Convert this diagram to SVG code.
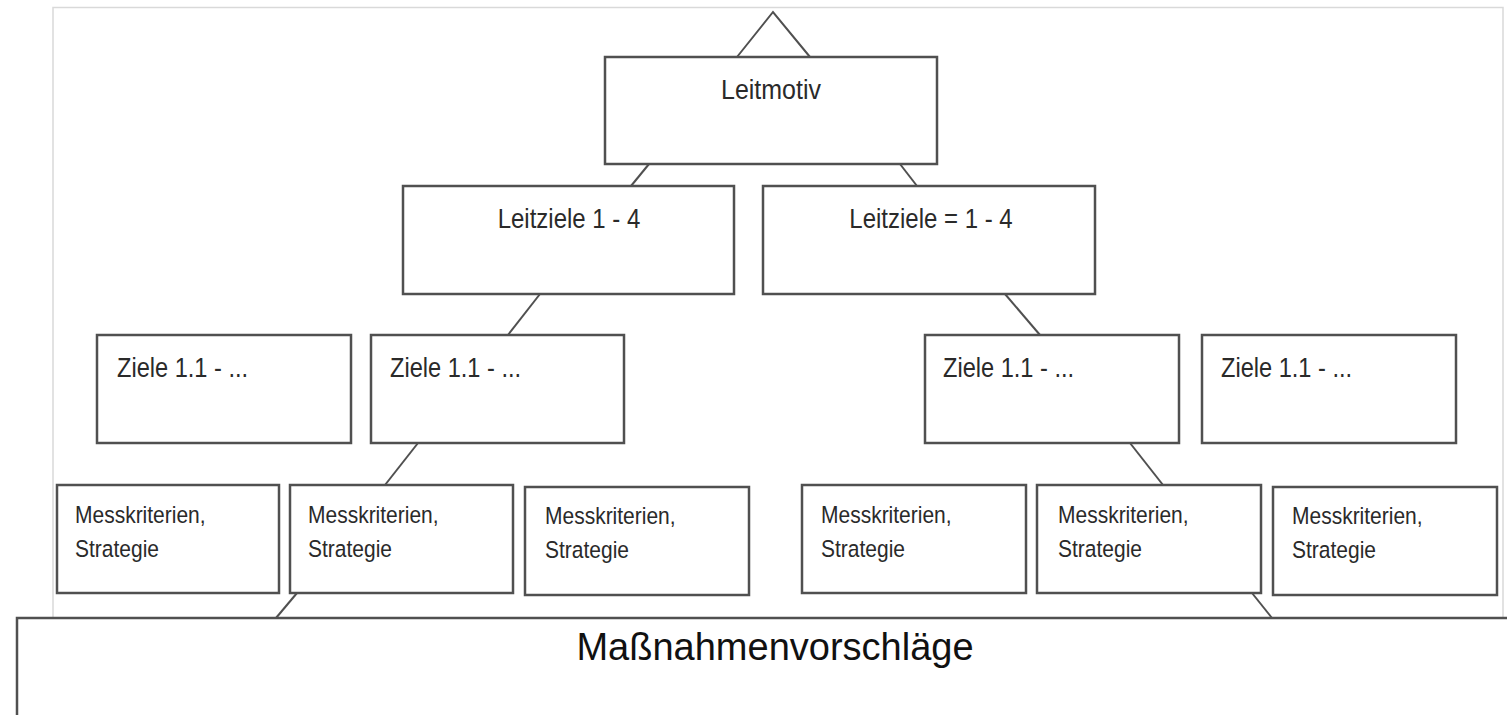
<svg xmlns="http://www.w3.org/2000/svg" width="1507" height="715" viewBox="0 0 1507 715">
<style>
.box{fill:#fff;stroke:#505050;stroke-width:2.5}
.frame{fill:#fff;stroke:#d9d9d9;stroke-width:1.5}
.con{stroke:#505050;stroke-width:2;fill:none}
.t{font-family:"Liberation Sans",Arial,sans-serif;fill:#2a2a2a}
.tl{font-size:24px}
.tz{font-size:23.6px}
.tm{font-size:21px}
.big{font-family:"Liberation Sans",Arial,sans-serif;font-size:38px;fill:#111}
</style>
<rect width="1507" height="715" fill="#fff"/>
<rect class="frame" x="53" y="7.5" width="1450" height="620"/>
<g id="connectors">
<polyline class="con" points="737,57 773,12 810,57"/>
<line class="con" x1="649" y1="164" x2="631" y2="186"/>
<line class="con" x1="900" y1="164" x2="917" y2="186"/>
<line class="con" x1="540" y1="294" x2="508" y2="335"/>
<line class="con" x1="1005" y1="294" x2="1040" y2="335"/>
<line class="con" x1="418" y1="443" x2="385" y2="485"/>
<line class="con" x1="1130" y1="443" x2="1163" y2="485"/>
<line class="con" x1="297" y1="593" x2="276" y2="618"/>
<line class="con" x1="1252" y1="593" x2="1272" y2="618"/>
</g>
<g id="leitmotiv">
<rect class="box" x="605" y="57" width="332" height="107"/>
<text class="t" font-size="25px" text-anchor="middle" transform="translate(771,99) scale(1,1.12)">Leitmotiv</text>
</g>
<g id="leitziele1">
<rect class="box" x="403" y="186" width="331" height="108"/>
<text class="t tl" text-anchor="middle" transform="translate(569,228) scale(1,1.15)">Leitziele 1 - 4</text>
</g>
<g id="leitziele2">
<rect class="box" x="763" y="186" width="332" height="108"/>
<text class="t tl" text-anchor="middle" transform="translate(931,228) scale(1,1.15)">Leitziele = 1 - 4</text>
</g>
<g id="ziele1">
<rect class="box" x="97" y="335" width="254" height="108"/>
<text class="t tz" transform="translate(117,377) scale(1,1.15)">Ziele 1.1 - ...</text>
</g>
<g id="ziele2">
<rect class="box" x="371" y="335" width="253" height="108"/>
<text class="t tz" transform="translate(390,377) scale(1,1.15)">Ziele 1.1 - ...</text>
</g>
<g id="ziele3">
<rect class="box" x="925" y="335" width="254" height="108"/>
<text class="t tz" transform="translate(943,377) scale(1,1.15)">Ziele 1.1 - ...</text>
</g>
<g id="ziele4">
<rect class="box" x="1202" y="335" width="254" height="108"/>
<text class="t tz" transform="translate(1221,377) scale(1,1.15)">Ziele 1.1 - ...</text>
</g>
<g id="mess1">
<rect class="box" x="57" y="485" width="222" height="108"/>
<text class="t tm" transform="translate(75,523) scale(1,1.18)">Messkriterien,</text>
<text class="t tm" transform="translate(75,557) scale(1,1.18)">Strategie</text>
</g>
<g id="mess2">
<rect class="box" x="290" y="485" width="223" height="108"/>
<text class="t tm" transform="translate(308,523) scale(1,1.18)">Messkriterien,</text>
<text class="t tm" transform="translate(308,557) scale(1,1.18)">Strategie</text>
</g>
<g id="mess3">
<rect class="box" x="525" y="487" width="224" height="108"/>
<text class="t tm" transform="translate(545,524) scale(1,1.18)">Messkriterien,</text>
<text class="t tm" transform="translate(545,558) scale(1,1.18)">Strategie</text>
</g>
<g id="mess4">
<rect class="box" x="802" y="485" width="224" height="108"/>
<text class="t tm" transform="translate(821,523) scale(1,1.18)">Messkriterien,</text>
<text class="t tm" transform="translate(821,557) scale(1,1.18)">Strategie</text>
</g>
<g id="mess5">
<rect class="box" x="1037" y="485" width="224" height="108"/>
<text class="t tm" transform="translate(1058,523) scale(1,1.18)">Messkriterien,</text>
<text class="t tm" transform="translate(1058,557) scale(1,1.18)">Strategie</text>
</g>
<g id="mess6">
<rect class="box" x="1273" y="487" width="224" height="108"/>
<text class="t tm" transform="translate(1292,524) scale(1,1.18)">Messkriterien,</text>
<text class="t tm" transform="translate(1292,558) scale(1,1.18)">Strategie</text>
</g>
<g id="massnahmen">
<rect class="box" x="17" y="618" width="1500" height="120" stroke="#666"/>
<text class="big" x="775" y="660" text-anchor="middle">Maßnahmenvorschläge</text>
</g>
</svg>
